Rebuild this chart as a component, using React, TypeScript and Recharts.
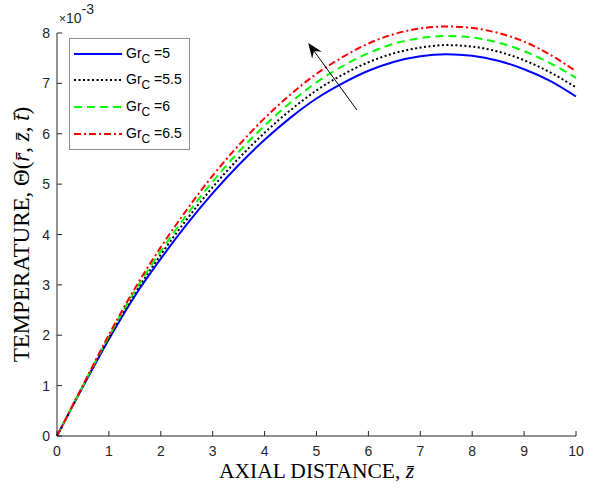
import { LineChart, Line, XAxis, YAxis, ReferenceLine, Label } from "recharts";

const zValues = [0, 0.5, 1, 1.5, 2, 2.5, 3, 3.5, 4, 4.5, 5, 5.5, 6, 6.5, 7, 7.5, 8, 8.5, 9, 9.5, 10];
const gr5 = [0, 0.98, 1.92, 2.78, 3.52, 4.2, 4.82, 5.38, 5.88, 6.32, 6.7, 7.0, 7.25, 7.43, 7.54, 7.58, 7.55, 7.45, 7.28, 7.05, 6.74];
const gr55 = [0, 0.99, 1.95, 2.83, 3.6, 4.3, 4.94, 5.51, 6.02, 6.47, 6.86, 7.17, 7.42, 7.6, 7.71, 7.76, 7.73, 7.63, 7.46, 7.22, 6.92];
const gr6 = [0, 1.0, 1.98, 2.88, 3.67, 4.39, 5.05, 5.64, 6.16, 6.62, 7.02, 7.34, 7.6, 7.79, 7.9, 7.94, 7.91, 7.81, 7.64, 7.4, 7.11];
const gr65 = [0, 1.01, 2.01, 2.93, 3.75, 4.49, 5.17, 5.77, 6.31, 6.78, 7.19, 7.52, 7.79, 7.98, 8.09, 8.13, 8.1, 8.0, 7.83, 7.57, 7.24];

const xTicks = [0, 1, 2, 3, 4, 5, 6, 7, 8, 9, 10];
const yTicks = [0, 1, 2, 3, 4, 5, 6, 7, 8];
const grLabels = ["5", "5.5", "6", "6.5"];

// arrow annotation, data coords (tail -> tip)
const arrowTail = { x: 5.78, y: 6.47 };
const arrowTip = { x: 4.84, y: 7.8 };

const data = zValues.map((z, i) => ({ z, g5: gr5[i], g55: gr55[i], g6: gr6[i], g65: gr65[i] }));

const series = [
  { key: "g5", color: "#0000ff", dash: undefined as string | undefined },
  { key: "g55", color: "#000000", dash: "2 2.5" },
  { key: "g6", color: "#00ff00", dash: "8 5" },
  { key: "g65", color: "#ff0000", dash: "7 3 2 3" },
];

const axisColor = "#262626";
const sans = "'Liberation Sans', Arial, sans-serif";
const serif = "'Liberation Serif', 'Times New Roman', serif";

const XTick = (props: any) => {
  const { x, y, payload } = props;
  return (
    <g>
      <line x1={x} y1={y} x2={x} y2={y - 5} stroke={axisColor} />
      <text x={x} y={y + 20} textAnchor="middle" fontSize={14} fontFamily={sans} fill={axisColor}>
        {payload.value}
      </text>
    </g>
  );
};

const YTick = (props: any) => {
  const { x, y, payload } = props;
  return (
    <g>
      <line x1={x} y1={y} x2={x + 5} y2={y} stroke={axisColor} />
      <text x={x - 7} y={y + 5} textAnchor="end" fontSize={14} fontFamily={sans} fill={axisColor}>
        {payload.value}
      </text>
    </g>
  );
};

const Arrow = (props: any) => {
  const { x1, y1, x2, y2 } = props;
  const dx = x2 - x1;
  const dy = y2 - y1;
  const len = Math.sqrt(dx * dx + dy * dy);
  const ux = dx / len;
  const uy = dy / len;
  const px = -uy;
  const py = ux;
  const L = 15;
  const W = 6;
  const bx = x2 - ux * L;
  const by = y2 - uy * L;
  const nx = x2 - ux * (L * 0.65);
  const ny = y2 - uy * (L * 0.65);
  return (
    <g>
      <line x1={x1} y1={y1} x2={nx} y2={ny} stroke="#000" strokeWidth={1} />
      <polygon
        points={`${x2},${y2} ${bx + px * W},${by + py * W} ${nx},${ny} ${bx - px * W},${by - py * W}`}
        fill="#000"
      />
    </g>
  );
};

const LegendBox = () => {
  const rows = [16, 42, 69, 96];
  return (
    <g transform="translate(69,38)">
      <rect x={0.5} y={0.5} width={120} height={111} fill="#fff" stroke="#8c8c8c" />
      {series.map((s, i) => (
        <g key={s.key}>
          <line x1={5} y1={rows[i]} x2={53} y2={rows[i]} stroke={s.color} strokeWidth={2} strokeDasharray={s.dash} />
          <text x={57} y={rows[i] + 4} fontSize={14} fontFamily={sans} fill="#000">
            Gr
            <tspan fontSize={12} dy={5}>C</tspan>
            <tspan dy={-5}>{" =" + grLabels[i]}</tspan>
          </text>
        </g>
      ))}
    </g>
  );
};

const XLabel = (props: any) => {
  const { viewBox } = props;
  const cx = viewBox.x + viewBox.width / 2;
  return (
    <text x={cx} y={viewBox.y + 42} textAnchor="middle" fontSize={21.5} fontFamily={serif} fill="#000">
      AXIAL DISTANCE,{" "}
      <tspan fontStyle="italic">{"z\u0304"}</tspan>
    </text>
  );
};

const YLabel = (props: any) => {
  const { viewBox } = props;
  const cy = viewBox.y + viewBox.height / 2;
  const cx = 29;
  return (
    <text
      x={cx}
      y={cy}
      textAnchor="middle"
      fontSize={23}
      fontFamily={serif}
      fill="#000"
      transform={`rotate(-90 ${cx} ${cy})`}
    >
      TEMPERATURE, Θ(
      <tspan fontStyle="italic">{"r\u0304"}</tspan>,{" "}
      <tspan fontStyle="italic">{"z\u0304"}</tspan>,{" "}
      <tspan fontStyle="italic">{"t\u0304"}</tspan>)
    </text>
  );
};

export default function App() {
  return (
    <div style={{ position: "absolute", left: 0, top: 0, width: 589, height: 491, background: "#fff" }}>
      <style>{`.recharts-wrapper .recharts-line, .recharts-wrapper .recharts-line * { clip-path: none !important; }`}</style>
      <LineChart width={589} height={491} data={data} margin={{ top: 33, right: 13, bottom: 0, left: 0 }}>
        <XAxis
          dataKey="z"
          type="number"
          domain={[0, 10]}
          ticks={xTicks}
          height={55}
          stroke={axisColor}
          tickSize={0}
          tickMargin={0}
          tick={<XTick />}
          tickLine={false}
        >
          <Label content={<XLabel />} />
        </XAxis>
        <YAxis
          type="number"
          domain={[0, 8]}
          ticks={yTicks}
          width={57}
          stroke={axisColor}
          tickSize={0}
          tickMargin={0}
          tick={<YTick />}
          tickLine={false}
          allowDataOverflow
        >
          <Label content={<YLabel />} />
        </YAxis>
        {series.map((s) => (
          <Line
            key={s.key}
            dataKey={s.key}
            type="monotone"
            stroke={s.color}
            strokeWidth={2}
            strokeDasharray={s.dash}
            dot={false}
            activeDot={false}
            isAnimationActive={false}
          />
        ))}
        <ReferenceLine segment={[arrowTail, arrowTip]} shape={<Arrow />} ifOverflow="visible" />
        <LegendBox />
        <text x={59} y={23} fontSize={14} fontFamily={sans} fill={axisColor}>
          <tspan fontSize={12}>×</tspan>10
          <tspan dy={-9}>-3</tspan>
        </text>
      </LineChart>
    </div>
  );
}
